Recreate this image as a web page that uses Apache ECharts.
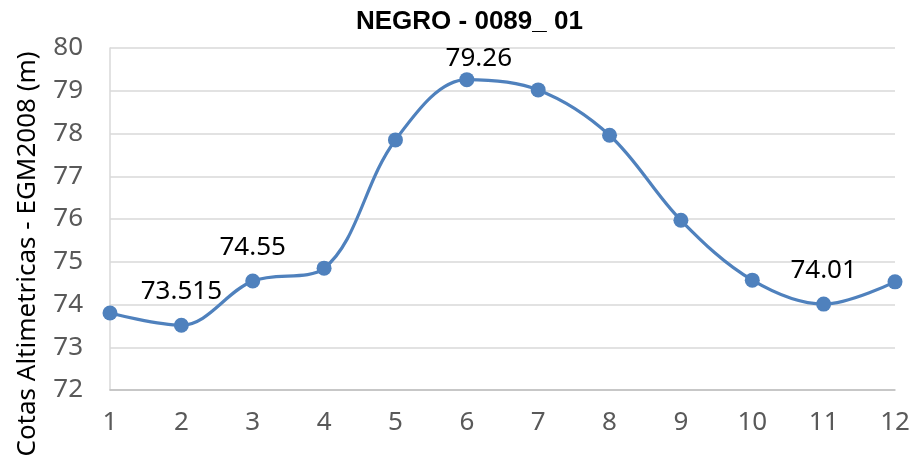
<!DOCTYPE html>
<html>
<head>
<meta charset="utf-8">
<script src="https://cdn.jsdelivr.net/npm/echarts@6/dist/echarts.min.js"></script>
<style>
  html, body { margin: 0; padding: 0; background: #ffffff; }
  #chart { width: 915px; height: 463px; }
</style>
</head>
<body>
<div id="chart"></div>
<script>
// Station numbers along the profile
const categories = ['1', '2', '3', '4', '5', '6', '7', '8', '9', '10', '11', '12'];
// Elevations (m, EGM2008)
const elevations = [73.8, 73.515, 74.55, 74.85, 77.85, 79.26, 79.02, 77.96, 75.97, 74.57, 74.01, 74.53];
// Stations whose elevation is printed next to the marker
const labelledStations = [1, 2, 5, 10];
const yTicks = { min: 72, max: 80, interval: 1 };

const FONT = '"Noto Sans", "Open Sans", sans-serif';
const BLUE = '#4f81bd';

const seriesData = elevations.map((v, i) => {
  const item = { value: v };
  if (labelledStations.includes(i)) {
    item.label = {
      show: true,
      position: 'top',
      distance: i === 5 ? 1 : 13,
      offset: i === 5 ? [12, 0] : [0, 0]
    };
  }
  return item;
});

const chart = echarts.init(document.getElementById('chart'), null, { renderer: 'canvas' });
chart.setOption({
  animation: false,
  backgroundColor: '#ffffff',
  title: {
    text: 'NEGRO - 0089_ 01',
    left: 351,
    top: 4,
    textStyle: {
      fontFamily: '"Liberation Sans", Arial, sans-serif',
      fontWeight: 'bold',
      fontSize: 26,
      color: '#000000'
    }
  },
  grid: { left: 110, right: 20, top: 48, bottom: 73, containLabel: false, outerBoundsMode: 'none' },
  xAxis: {
    type: 'category',
    data: categories,
    boundaryGap: false,
    axisLine: { show: true, lineStyle: { color: '#bfbfbf', width: 1.5 } },
    axisTick: { show: false },
    axisLabel: { color: '#595959', fontSize: 26, fontFamily: FONT, margin: 20 },
    splitLine: { show: false }
  },
  yAxis: {
    type: 'value',
    min: yTicks.min,
    max: yTicks.max,
    interval: yTicks.interval,
    name: 'Cotas Altimetricas - EGM2008 (m)',
    nameLocation: 'middle',
    nameGap: 69,
    nameRotate: 90,
    nameTextStyle: {
      color: '#000000',
      fontSize: 26,
      fontFamily: FONT,
      padding: [0, 70, 0, 0]
    },
    axisLine: { show: true, lineStyle: { color: '#d9d9d9', width: 1.5 } },
    axisTick: { show: false },
    axisLabel: { color: '#595959', fontSize: 26, fontFamily: FONT, margin: 27 },
    splitLine: { show: true, lineStyle: { color: '#d9d9d9', width: 1.5 } }
  },
  series: [{
    type: 'line',
    data: seriesData,
    smooth: 0.35,
    symbol: 'circle',
    symbolSize: 15,
    lineStyle: { color: BLUE, width: 3.2 },
    itemStyle: { color: BLUE },
    label: {
      show: false,
      color: '#000000',
      fontSize: 26,
      fontFamily: FONT
    }
  }]
});
</script>
</body>
</html>
